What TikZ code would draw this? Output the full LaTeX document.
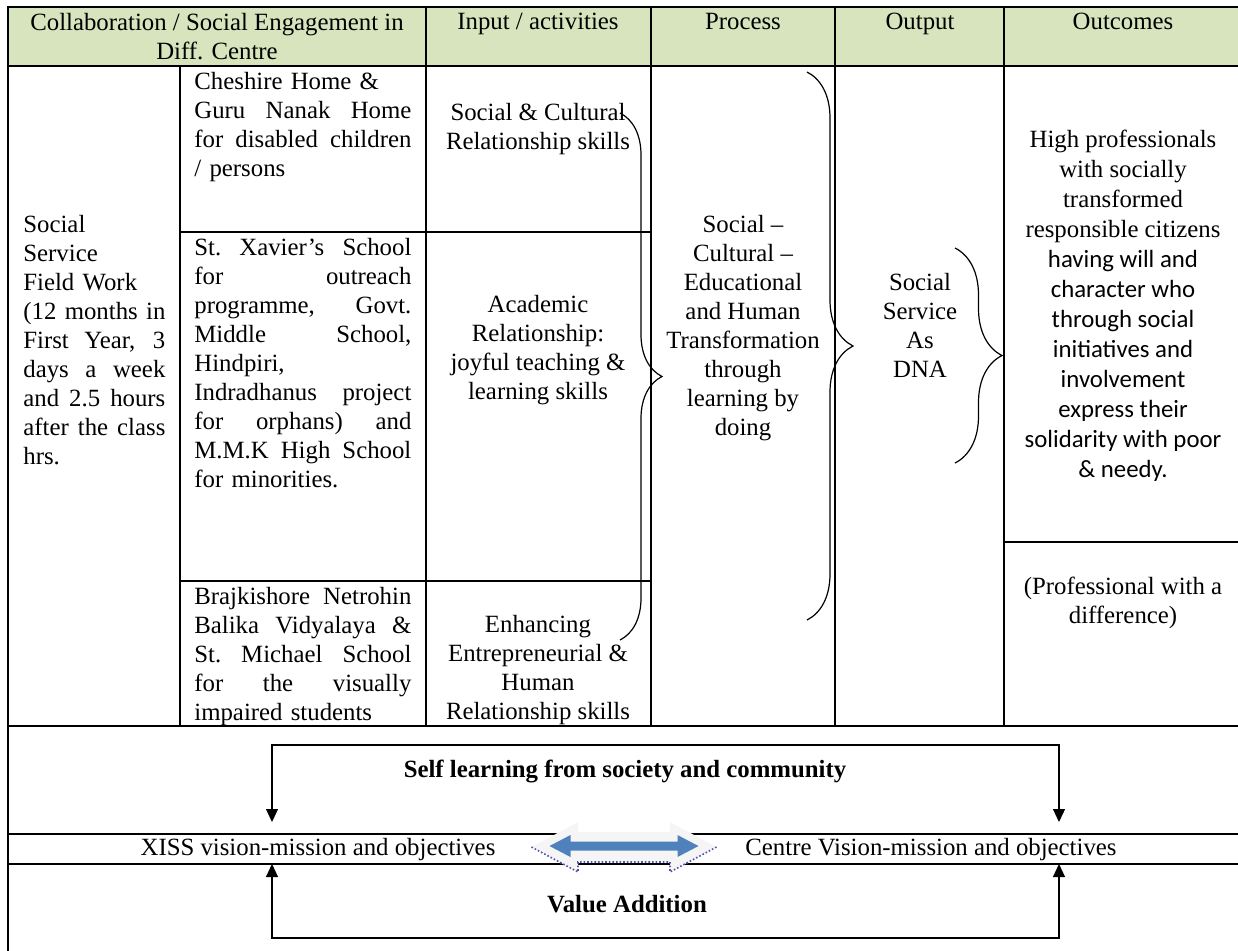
\documentclass[tikz,border=0pt]{standalone}
\usepackage{fontspec}
\setmainfont{Liberation Serif}
\newfontfamily\calib{Carlito}
\usepackage{tikz}
\usetikzlibrary{arrows.meta,decorations.pathreplacing}
\definecolor{headgreen}{HTML}{D7E4BD}
\definecolor{arrowblue}{HTML}{4F81BD}
\newcommand\jl[2][108.5pt]{\leavevmode\hbox to #1{\spaceskip=0.25em plus 1fil\xspaceskip=\spaceskip #2}}

\begin{document}
\begin{tikzpicture}[x=0.5pt,y=-0.5pt,
  cell/.style={inner sep=0pt,anchor=north,font=\fontsize{12.4}{14.5}\selectfont},
  mid/.style={cell,align=center},
  just/.style={cell,anchor=north west,text width=108.5pt,align=left},
  bold/.style={cell,font=\fontsize{12.4}{14.5}\selectfont\bfseries},
  rule/.style={line width=1pt},
  thin/.style={line width=0.6pt},
  flow/.style={line width=0.6pt,{Triangle[width=6pt,length=6.5pt]}-{Triangle[width=6pt,length=6.5pt]}},
  brc/.style={decorate,decoration={brace,amplitude=#1},line width=0.6pt}]
  \useasboundingbox (0,0) rectangle (1238,950);
  \clip (0,0) rectangle (1238,950);

  \fill[headgreen] (8,7) rectangle (1245,66);
  \draw[rule] (1245,7) -- (8,7) -- (8,960);
  \draw[rule] (8,66) -- (1245,66) (8,726) -- (1245,726);
  \draw[rule] (180,66) -- (180,726);
  \draw[rule] (426,7) -- (426,726);
  \draw[rule] (651,7) -- (651,726);
  \draw[rule] (835,7) -- (835,726);
  \draw[rule] (1004,7) -- (1004,726);
  \draw[thin] (180,232) -- (651,232) (180,581) -- (651,581);
  \draw[thin] (1004,542) -- (1245,542);
  \draw[thin] (8,834) -- (1245,834) (8,864) -- (1245,864);

  \node[mid] (hcollab) at (217,13) {Collaboration / Social Engagement in\\Diff. Centre};
  \node[mid] (hinput) at (538,13) {Input / activities};
  \node[mid] (hprocess) at (743,13) {Process};
  \node[mid] (houtput) at (920,13) {Output};
  \node[mid] (houtcome) at (1123,13) {Outcomes};

  \node[cell,anchor=north west,text width=71pt,align=left] (field) at (23,215)
    {Social\\Service\\Field Work\\\jl[71pt]{(12 months in}\\\jl[71pt]{First Year, 3}\\\jl[71pt]{days a week}\\\jl[71pt]{and 2.5 hours}\\\jl[71pt]{after the class}\\hrs.};

  \node[just] (cheshire) at (194,72)
    {Cheshire Home \&\\\jl{Guru Nanak Home}\\\jl{for disabled children}\\/ persons};
  \node[just] (xavier) at (194,238)
    {\jl{St. Xavier’s School}\\\jl{for outreach}\\\jl{programme, Govt.}\\\jl{Middle School,}\\Hindpiri,\\\jl{Indradhanus project}\\\jl{for orphans) and}\\\jl{M.M.K High School}\\for minorities.};
  \node[just] (brajkishore) at (194,587)
    {\jl{Brajkishore Netrohin}\\\jl{Balika Vidyalaya \&}\\\jl{St. Michael School}\\\jl{for the visually}\\impaired students};

  \node[mid] (social) at (538,103) {Social \& Cultural\\Relationship skills};
  \node[mid] (academic) at (538,295) {Academic\\Relationship:\\joyful teaching \&\\learning skills};
  \node[mid] (enhance) at (538,615) {Enhancing\\Entrepreneurial \&\\Human\\Relationship skills};

  \node[mid] (process) at (743,215) {Social --\\Cultural --\\Educational\\and Human\\Transformation\\through\\learning by\\doing};
  \node[mid] (output) at (920,273) {Social\\Service\\As\\DNA};
  \node[mid,font=\fontsize{12.4}{15}\selectfont] (outcome) at (1123,130)
    {High professionals\\with socially\\transformed\\responsible citizens\\\calib having will and\\\calib character who\\\calib through social\\\calib initiatives and\\\calib involvement\\\calib express their\\\calib solidarity with poor\\\calib\& needy.};
  \node[mid] (profdiff) at (1123,577) {(Professional with a\\difference)};

  \draw[brc=21pt] (620,113) -- (620,640);
  \draw[brc=23pt] (807,72) -- (807,620);
  \draw[brc=23.5pt] (955,248) -- (955,463);

  \node[bold] (selflearn) at (625,760) {Self learning from society and community};
  \node[cell] (xiss) at (318,838) {XISS vision-mission and objectives};
  \node[cell] (centre) at (931,838) {Centre Vision-mission and objectives};
  \node[bold] (valadd) at (627,895) {Value Addition};

  \coordinate (selfL) at (272,822);
  \coordinate (selfR) at (1059,822);
  \coordinate (valL) at (272,864);
  \coordinate (valR) at (1059,864);
  \draw[flow] (selfL) -- ++(0,-77) -| (selfR);
  \draw[flow] (valL) -- ++(0,74) -| (valR);

  \coordinate (link) at (624,847);
  \fill[gray!8] (link) ++(-92.5,0) -- ++(46.5,-25) -- ++(0,10) -- ++(92,0) -- ++(0,-10)
    -- ++(46.5,25) -- ++(-46.5,25) -- ++(0,-10) -- ++(-92,0) -- ++(0,10) -- cycle;
  \draw[densely dotted,blue!35!gray,line width=0.8pt] (link) ++(-92.5,0) -- ++(46.5,25)
    -- ++(0,-10) -- ++(92,0) -- ++(0,10) -- ++(46.5,-25);
  \fill[arrowblue] (link) ++(-74.5,-1) -- ++(21,-11) -- ++(0,6.5) -- ++(107,0) -- ++(0,-6.5)
    -- ++(21,11) -- ++(-21,11) -- ++(0,-6.5) -- ++(-107,0) -- ++(0,6.5) -- cycle;
\end{tikzpicture}
\end{document}
